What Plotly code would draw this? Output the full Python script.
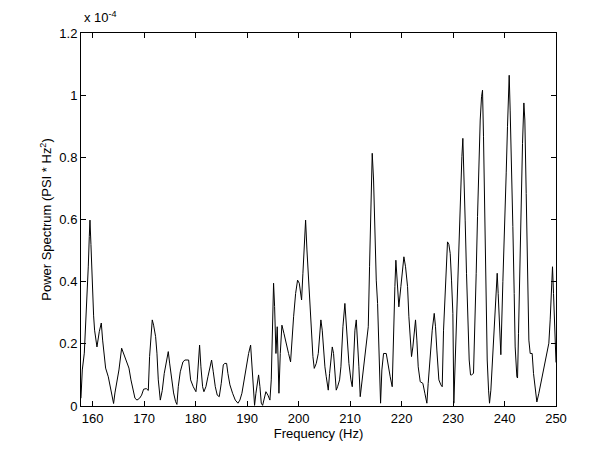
import plotly.graph_objects as go

# Frequency (Hz)
freq = [157.74, 158.0, 158.39, 158.84, 159.17, 159.36, 159.49, 159.68, 159.94, 160.2,
        160.39, 160.85, 161.3, 161.69, 161.95, 162.27, 162.53, 163.05, 163.44, 163.83,
        164.08, 164.34, 164.73, 165.12, 165.64, 165.9, 166.29, 166.67, 167.06, 167.45,
        167.84, 168.23, 168.62, 169.13, 169.52, 169.91, 170.43, 170.82, 171.07, 171.33,
        171.59, 171.85, 172.24, 172.5, 172.76, 173.15, 173.53, 173.92, 174.31, 174.7,
        174.96, 175.35, 175.73, 176.12, 176.38, 176.64, 177.03, 177.55, 177.94,
        178.65, 179.04, 179.55, 180.07, 180.33, 180.59, 180.78, 181.04, 181.37, 181.62,
        182.01, 182.4, 182.79, 183.11, 183.44, 183.83, 184.21, 184.6, 184.99, 185.38,
        185.64, 186.03, 186.28, 186.67, 187.19, 187.71, 188.23, 188.61, 189.0, 189.39,
        189.91, 190.3, 190.69, 190.94, 191.2, 191.46, 191.72, 191.98, 192.24, 192.5,
        192.76, 193.02, 193.27, 193.66, 194.05, 194.44, 194.7, 194.96, 195.15, 195.35,
        195.61, 195.86, 195.99, 196.19, 196.45, 196.77, 197.16, 197.55, 198.06, 198.45,
        198.71, 199.04, 199.43, 199.81, 200.14, 200.33, 200.59, 200.85, 201.11, 201.37,
        201.63, 201.95, 202.27, 202.53, 202.79, 203.05, 203.44, 203.83, 204.09, 204.34,
        204.6, 204.86, 205.12, 205.38, 205.77, 206.03, 206.29, 206.55, 206.8, 207.06,
        207.32, 207.58, 207.97, 208.23, 208.62, 209.0, 209.26, 209.52, 209.78, 210.17,
        210.43, 210.69, 210.95, 211.21, 211.46, 211.72, 211.98, 212.37, 212.76, 213.15,
        213.54, 213.79, 214.05, 214.31, 214.57, 214.83, 215.09, 215.35, 215.54, 215.73,
        215.93, 216.18, 216.51, 217.03, 217.41, 217.8, 218.19, 218.45, 218.71, 218.9,
        219.1, 219.48, 219.87, 220.26, 220.46, 220.78, 221.17, 221.43, 221.69, 221.94,
        222.2, 222.46, 222.72, 222.98, 223.24, 223.63, 224.14, 224.53, 224.92, 225.18,
        225.57, 225.96, 226.35, 226.6, 226.86, 227.25, 227.64, 227.9, 228.16, 228.42,
        228.68, 228.93, 229.19, 229.45, 229.71, 229.97, 230.16, 230.42, 230.68, 230.94,
        231.2, 231.46, 231.72, 231.91, 232.11, 232.36, 232.62, 232.88, 233.14, 233.4,
        233.59, 233.98, 234.24, 234.5, 234.76, 235.02, 235.28, 235.54, 235.73, 235.92,
        236.12, 236.38, 236.64, 236.9, 237.09, 237.35, 237.61, 237.87, 238.13, 238.38,
        238.58, 238.77, 239.03, 239.29, 239.68, 239.94, 240.33, 240.58, 240.91, 241.1,
        241.36, 241.62, 241.88, 242.07, 242.4, 242.53, 242.72, 242.98, 243.24, 243.5,
        243.76, 243.95, 244.21, 244.47, 244.73, 244.99, 245.37, 245.63, 245.96, 246.28,
        246.67, 247.06, 247.45, 247.83, 248.22, 248.61, 248.87, 249.13, 249.32, 249.52,
        249.65, 249.9, 250.0]

# Power spectrum (units of 1e-4 PSI * Hz^2)
power = [0.025, 0.116, 0.17, 0.31, 0.45, 0.545, 0.598, 0.52, 0.38, 0.29,
         0.244, 0.19, 0.239, 0.267, 0.212, 0.148, 0.122, 0.094, 0.062, 0.019,
         0.008, 0.042, 0.078, 0.116, 0.186, 0.175, 0.154, 0.138, 0.122, 0.084,
         0.051, 0.025, 0.019, 0.025, 0.035, 0.054, 0.056, 0.05, 0.159, 0.239,
         0.277, 0.26, 0.223, 0.17, 0.084, 0.019, 0.05, 0.105, 0.142, 0.175,
         0.138, 0.084, 0.042, 0.014, 0.005, 0.062, 0.11, 0.142, 0.148,
         0.148, 0.084, 0.062, 0.046, 0.084, 0.159, 0.196, 0.126, 0.062, 0.046,
         0.062, 0.094, 0.126, 0.148, 0.11, 0.062, 0.035, 0.03, 0.073, 0.132,
         0.137, 0.137, 0.105, 0.068, 0.041, 0.019, 0.009, 0.019, 0.041, 0.084,
         0.142, 0.169, 0.196, 0.126, 0.062, 0.002, 0.041, 0.073, 0.1, 0.062,
         0.009, 0.002, 0.019, 0.046, 0.035, 0.019, 0.084, 0.244, 0.395, 0.32,
         0.169, 0.255, 0.159, 0.041, 0.169, 0.26, 0.234, 0.202, 0.169, 0.142,
         0.212, 0.287, 0.362, 0.405, 0.395, 0.362, 0.341, 0.427, 0.512, 0.598,
         0.502, 0.405, 0.309, 0.223, 0.159, 0.121, 0.137, 0.169, 0.234, 0.277,
         0.244, 0.18, 0.126, 0.094, 0.051, 0.105, 0.148, 0.19, 0.169, 0.105,
         0.051, 0.062, 0.084, 0.126, 0.255, 0.33, 0.255, 0.19, 0.137, 0.084,
         0.062, 0.148, 0.244, 0.277, 0.212, 0.126, 0.03, 0.084, 0.137, 0.19,
         0.255, 0.448, 0.641, 0.813, 0.727, 0.534, 0.405, 0.33, 0.212, 0.105,
         0.009, 0.116, 0.169, 0.169, 0.126, 0.094, 0.062, 0.255, 0.384, 0.469,
         0.405, 0.319, 0.384, 0.448, 0.48, 0.448, 0.384, 0.287, 0.202, 0.159,
         0.19, 0.244, 0.277, 0.212, 0.126, 0.078, 0.073, 0.041, 0.009, 0.073,
         0.169, 0.244, 0.298, 0.255, 0.18, 0.084, 0.068, 0.062, 0.244, 0.362,
         0.469, 0.528, 0.52, 0.491, 0.405, 0.298, 0.009, 0.148, 0.298, 0.448,
         0.598, 0.705, 0.802, 0.861, 0.77, 0.598, 0.427, 0.255, 0.148, 0.1,
         0.1, 0.105, 0.234, 0.427, 0.609, 0.791, 0.92, 0.995, 1.016, 0.866,
         0.63, 0.362, 0.148, 0.051, 0.009, 0.051, 0.126, 0.19, 0.277, 0.362,
         0.427, 0.362, 0.255, 0.165, 0.4, 0.52, 0.75, 0.9, 1.064, 0.952,
         0.791, 0.577, 0.362, 0.19, 0.094, 0.09, 0.234, 0.469, 0.684, 0.845,
         0.975, 0.92, 0.684, 0.405, 0.212, 0.169, 0.169, 0.105, 0.051, 0.013,
         0.041, 0.073, 0.105, 0.137, 0.169, 0.202, 0.277, 0.384, 0.448, 0.362,
         0.298, 0.148, 0.14]

x_ticks = [160, 170, 180, 190, 200, 210, 220, 230, 240, 250]
y_ticks = [0, 0.2, 0.4, 0.6, 0.8, 1.0, 1.2]
y_tick_labels = ["0", "0.2", "0.4", "0.6", "0.8", "1", "1.2"]

font = dict(family="Liberation Sans, Arial, sans-serif", size=13, color="black")

fig = go.Figure(go.Scatter(x=freq, y=power, mode="lines",
                           line=dict(color="black", width=1), hoverinfo="skip"))

axis_common = dict(showline=True, linecolor="black", linewidth=1, mirror="ticks",
                   ticks="inside", ticklen=5, tickcolor="black", tickwidth=1,
                   showgrid=False, zeroline=False, tickfont=font)

fig.update_layout(
    width=614, height=453,
    margin=dict(l=73, r=66, t=25, b=55),
    paper_bgcolor="white", plot_bgcolor="white",
    showlegend=False, font=font,
    xaxis=dict(range=[157.75, 250], tickvals=x_ticks, **axis_common,
               title=dict(text="Frequency (Hz)", font=font, standoff=3)),
    yaxis=dict(range=[0, 1.2], tickvals=y_ticks, ticktext=y_tick_labels, **axis_common,
               title=dict(text="Power Spectrum (PSI * Hz<sup>2</sup>)", font=font, standoff=4)),
    annotations=[dict(text="x 10<sup>-4</sup>", xref="paper", yref="paper",
                      x=0.0, y=1.0, xanchor="left", yanchor="bottom", xshift=1, yshift=6,
                      showarrow=False, font=font)],
)

fig.write_html("out.html")
